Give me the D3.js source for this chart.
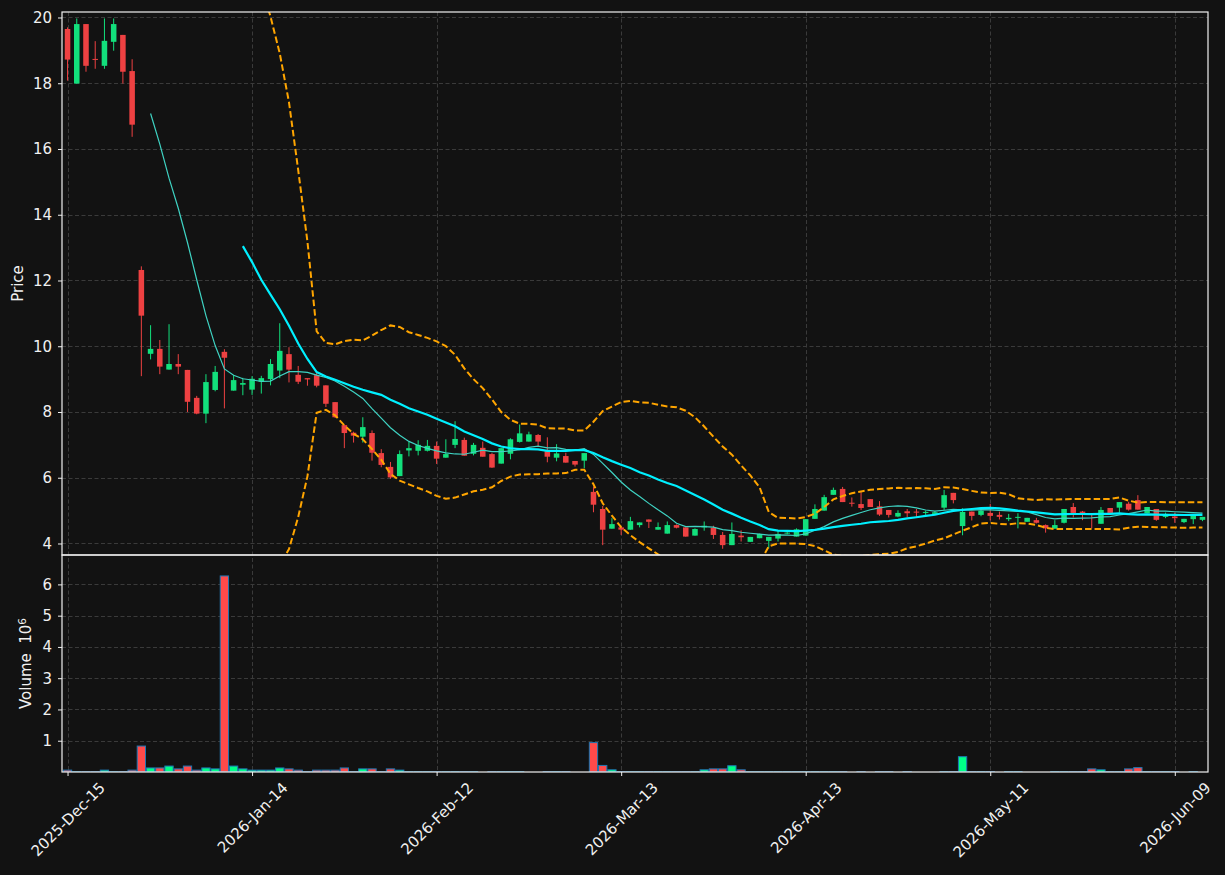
<!DOCTYPE html>
<html>
<head>
<meta charset="utf-8">
<script src="https://cdn.jsdelivr.net/npm/d3@7"></script>
<style>
  html, body { margin: 0; padding: 0; background: #121212; }
  svg { display: block; font-family: "DejaVu Sans", sans-serif; }
</style>
</head>
<body>
<div id="chart"></div>
<script>
// daily OHLC, index = trading day
var opens  = [19.65,17.99,19.80,18.74,18.53,19.26,19.47,18.37,12.32,9.77, 9.92,9.29,9.46,9.28,8.43,7.95,8.67,9.83,8.65,8.83,
              8.68,8.92,9.00,9.26,9.76,9.13,9.03,9.12,8.81,8.30, 7.60,7.37,7.25,7.36,6.75,6.33,6.05,6.83,6.82,6.82,
              6.97,6.61,7.00,7.15,6.73,6.91,6.72,6.43,6.73,7.09, 7.10,7.30,6.81,6.61,6.66,6.51,6.52,5.57,5.05,4.45,
              4.49,4.42,4.56,4.73,4.42,4.30,4.56,4.49,4.24,4.49, 4.48,4.26,3.95,4.24,4.05,4.16,4.08,4.15,4.30,4.21,
              4.24,4.75,5.00,5.48,5.66,5.24,5.20,5.35,5.13,5.02, 4.82,4.98,4.97,4.93,4.90,5.09,5.54,4.53,4.97,4.87,
              4.93,4.87,4.74,4.79,4.66,4.71,4.56,4.45,4.63,5.11, 4.97,4.92,4.60,5.08,5.09,5.21,5.32,4.92,5.05,4.81,
              4.82,4.65,4.74,4.72];
var highs  = [19.70,19.97,19.80,19.28,19.97,19.97,19.47,18.73,12.43,10.64, 10.19,10.67,9.76,9.28,8.49,9.15,9.40,9.91,9.12,9.04,
              9.09,9.10,9.61,10.70,9.97,9.40,9.03,9.20,8.81,8.30, 7.60,7.40,7.84,7.44,6.87,6.48,6.83,7.09,7.14,7.15,
              7.10,7.17,7.72,7.22,7.06,7.10,6.75,6.90,7.20,7.62, 7.40,7.33,7.23,7.02,6.76,6.51,6.75,5.73,5.14,4.77,
              4.49,4.81,4.64,4.73,4.64,4.67,4.58,4.49,4.46,4.67, 4.54,4.35,4.64,4.40,4.20,4.30,4.20,4.39,4.36,4.46,
              4.74,5.19,5.48,5.70,5.72,5.40,5.56,5.35,5.29,5.02, 5.01,5.05,5.05,5.00,4.98,5.63,5.54,5.07,4.97,5.07,
              5.20,4.97,4.90,4.92,4.78,4.78,4.58,4.71,5.05,5.23, 4.99,4.92,5.11,5.08,5.26,5.27,5.47,5.11,5.05,4.94,
              4.94,4.75,4.86,4.81];
var lows   = [18.08,17.99,18.35,18.44,18.44,18.99,17.99,16.37,9.09,9.60, 9.15,9.29,9.15,8.00,7.93,7.66,8.63,8.11,8.65,8.51,
              8.52,8.56,8.81,9.03,8.90,8.85,8.80,8.75,8.15,7.82, 6.90,7.07,7.07,6.52,6.32,5.97,6.05,6.65,6.68,6.80,
              6.42,6.61,6.90,6.67,6.68,6.64,6.30,6.43,6.56,7.07, 7.10,6.95,6.47,6.50,6.46,6.34,6.29,4.95,3.95,4.45,
              4.26,4.42,4.49,4.47,4.42,4.30,4.46,4.21,4.24,4.39, 4.14,3.84,3.95,4.06,4.05,4.16,3.85,4.06,4.28,4.21,
              4.24,4.75,5.00,5.48,5.26,5.12,5.02,5.11,4.84,4.79, 4.80,4.80,4.80,4.87,4.90,5.02,5.22,4.25,4.70,4.83,
              4.70,4.73,4.68,4.46,4.66,4.61,4.33,4.45,4.61,4.79, 4.71,4.46,4.60,4.93,4.94,5.00,5.03,4.92,4.69,4.77,
              4.63,4.62,4.59,4.68];
var closes = [18.72,19.80,18.53,18.72,19.29,19.80,18.35,16.74,10.93,9.92, 9.38,9.46,9.38,8.31,7.95,8.91,9.22,9.65,8.97,8.88,
              9.01,9.03,9.46,9.86,9.29,8.92,8.99,8.80,8.25,7.84, 7.36,7.28,7.54,6.76,6.39,6.01,6.72,6.90,7.00,6.97,
              6.58,6.72,7.18,6.67,7.00,6.64,6.31,6.90,7.17,7.35, 7.32,7.10,6.64,6.74,6.46,6.40,6.75,5.18,4.42,4.59,
              4.42,4.68,4.64,4.66,4.50,4.56,4.48,4.21,4.44,4.54, 4.26,3.95,4.29,4.19,4.20,4.29,4.20,4.29,4.33,4.43,
              4.74,5.05,5.41,5.63,5.26,5.22,5.08,5.11,4.88,4.87, 4.93,4.92,4.95,4.96,4.95,5.47,5.32,4.96,4.84,5.00,
              4.84,4.81,4.78,4.81,4.78,4.63,4.46,4.56,5.05,4.93, 4.93,4.89,5.02,4.93,5.26,5.03,5.03,5.11,4.72,4.90,
              4.77,4.75,4.86,4.81];
// volume in millions
var volumes = [0.06,0.01,0.01,0.01,0.06,0.01,0.01,0.06,0.83,0.13, 0.13,0.19,0.10,0.19,0.06,0.13,0.10,6.27,0.19,0.10,
               0.06,0.06,0.06,0.13,0.10,0.06,0.01,0.06,0.06,0.06, 0.13,0.01,0.10,0.10,0.01,0.10,0.06,0.01,0.01,0.01,
               0.01,0.01,0.01,0.01,0.01,0,0.01,0.01,0.01,0.01, 0,0,0.01,0.01,0.01,0,0,0.94,0.21,0.07,
               0.01,0.01,0.01,0.01,0.01,0.01,0.01,0.01,0.01,0.07, 0.10,0.10,0.20,0.07,0.01,0.01,0.01,0.01,0.01,0.01,
               0.01,0.01,0.01,0.01,0.01,0,0.01,0,0.01,0.01, 0,0.01,0,0,0,0.01,0.01,0.49,0.01,0.01,
               0.01,0,0.01,0.01,0,0,0,0.01,0.01,0.01, 0.01,0.10,0.07,0.01,0.01,0.10,0.14,0.01,0.01,0.01,
               0.01,0,0.01,0];
var tickIdx = [0, 20, 40, 60, 80, 100, 120];
var tickLabels = ['2025-Dec-15', '2026-Jan-14', '2026-Feb-12', '2026-Mar-13', '2026-Apr-13', '2026-May-11', '2026-Jun-09'];
var priceTicks = [4, 6, 8, 10, 12, 14, 16, 18, 20];
var volTicks = [1, 2, 3, 4, 5, 6];

var W = 1225, H = 875;
var pLeft = 62, pRight = 1208, pTop = 12, pMid = 555, pBottom = 772;
var upColor = '#12e07c', downColor = '#ee4142';
var gridColor = '#3a3a3a', fg = '#f0f0f0';
var fontSize = '15px';

var n = closes.length;
var candles = closes.map(function(c, i){
    return {i: i, o: opens[i], h: highs[i], l: lows[i], c: c, v: volumes[i]};
});

// rolling mean / bollinger from closes
function rolling(win, fn){
    return closes.map(function(c, i){
        if (i < win - 1) return null;
        return fn(closes.slice(i - win + 1, i + 1));
    });
}
var ma10 = rolling(10, d3.mean);
var ma20 = rolling(20, d3.mean);
var sd20 = rolling(20, d3.deviation);
var bbUp = ma20.map(function(m, i){ return m == null ? null : m + 2 * sd20[i]; });
var bbLo = ma20.map(function(m, i){ return m == null ? null : m - 2 * sd20[i]; });

var x = d3.scaleLinear().domain([-0.6, n - 1 + 0.6]).range([pLeft, pRight]);
var y = d3.scaleLinear().domain([3.65, 20.167]).range([pMid, pTop]);
var yv = d3.scaleLinear().domain([0, 6.94]).range([pBottom, pMid]);
var step = x(1) - x(0);

var svg = d3.select('#chart').append('svg')
    .attr('width', W).attr('height', H);
svg.append('rect').attr('width', W).attr('height', H).attr('fill', '#121212');

var defs = svg.append('defs');
defs.append('clipPath').attr('id', 'clipP').append('rect')
    .attr('x', pLeft).attr('y', pTop).attr('width', pRight - pLeft).attr('height', pMid - pTop);
defs.append('clipPath').attr('id', 'clipV').append('rect')
    .attr('x', pLeft).attr('y', pMid).attr('width', pRight - pLeft).attr('height', pBottom - pMid);

// grid
var grid = svg.append('g').attr('stroke', gridColor).attr('stroke-width', 1).attr('stroke-dasharray', '4,2.5');
grid.selectAll('.gy').data(priceTicks).enter().append('line')
    .attr('x1', pLeft).attr('x2', pRight)
    .attr('y1', function(d){ return Math.round(y(d)) + 0.5; })
    .attr('y2', function(d){ return Math.round(y(d)) + 0.5; });
grid.selectAll('.gv').data(volTicks).enter().append('line')
    .attr('x1', pLeft).attr('x2', pRight)
    .attr('y1', function(d){ return Math.round(yv(d)) + 0.5; })
    .attr('y2', function(d){ return Math.round(yv(d)) + 0.5; });
grid.selectAll('.gx').data(tickIdx).enter().append('line')
    .attr('y1', pTop).attr('y2', pBottom)
    .attr('x1', function(d){ return Math.round(x(d)) + 0.5; })
    .attr('x2', function(d){ return Math.round(x(d)) + 0.5; });

// candles
var pg = svg.append('g').attr('clip-path', 'url(#clipP)');
var cg = pg.selectAll('.candle').data(candles).enter().append('g');
cg.append('line')
    .attr('x1', function(d){ return x(d.i); })
    .attr('x2', function(d){ return x(d.i); })
    .attr('y1', function(d){ return y(d.h); })
    .attr('y2', function(d){ return y(d.l); })
    .attr('stroke', function(d){ return d.c >= d.o ? upColor : downColor; })
    .attr('stroke-width', 1);
cg.append('rect')
    .attr('x', function(d){ return x(d.i) - step * 0.3; })
    .attr('width', step * 0.6)
    .attr('y', function(d){ return y(Math.max(d.o, d.c)); })
    .attr('height', function(d){ return Math.max(1, Math.abs(y(d.o) - y(d.c))); })
    .attr('fill', function(d){ return d.c >= d.o ? upColor : downColor; });

// overlays
function linePath(arr){
    return d3.line()
        .defined(function(d){ return d != null; })
        .x(function(d, i){ return x(i); })
        .y(function(d){ return y(d); })(arr);
}
pg.append('path').attr('d', linePath(bbUp)).attr('fill', 'none')
    .attr('stroke', '#ffa500').attr('stroke-width', 2).attr('stroke-dasharray', '6.5,3');
pg.append('path').attr('d', linePath(bbLo)).attr('fill', 'none')
    .attr('stroke', '#ffa500').attr('stroke-width', 2).attr('stroke-dasharray', '6.5,3');
pg.append('path').attr('d', linePath(ma10)).attr('fill', 'none')
    .attr('stroke', '#3fd3c3').attr('stroke-width', 1.2);
pg.append('path').attr('d', linePath(ma20)).attr('fill', 'none')
    .attr('stroke', '#00f0ff').attr('stroke-width', 2.2);

// volume
var vg = svg.append('g').attr('clip-path', 'url(#clipV)');
vg.selectAll('.vol').data(candles.filter(function(d){ return d.v > 0; })).enter().append('rect')
    .attr('x', function(d){ return x(d.i) - step * 0.45; })
    .attr('width', step * 0.9)
    .attr('y', function(d){ return yv(d.v); })
    .attr('height', function(d){ return yv(0) - yv(d.v); })
    .attr('fill', function(d){ return d.c >= d.o ? '#00ff88' : '#ff4a4a'; })
    .attr('stroke', '#1f77b4')
    .attr('stroke-width', 1);

// axes
var yAxis = d3.axisLeft(y).tickValues(priceTicks).tickSize(4).tickPadding(6).tickFormat(d3.format('d'));
var vAxis = d3.axisLeft(yv).tickValues(volTicks).tickSize(4).tickPadding(6).tickFormat(d3.format('d'));
var xAxis = d3.axisBottom(x).tickValues(tickIdx).tickSize(4).tickFormat(function(d, i){ return tickLabels[i]; });

function styleAxis(g){
    g.select('.domain').remove();
    g.selectAll('line').attr('stroke', fg);
    g.selectAll('text').attr('fill', fg).style('font-size', fontSize).style('font-family', '"DejaVu Sans", sans-serif');
}
svg.append('g').attr('transform', 'translate(' + pLeft + ',0)').call(yAxis).call(styleAxis);
svg.append('g').attr('transform', 'translate(' + pLeft + ',0)').call(vAxis).call(styleAxis);
var xg = svg.append('g').attr('transform', 'translate(0,' + pBottom + ')').call(xAxis).call(styleAxis);

// rotate x labels 45deg, centre bbox under tick
xg.selectAll('text').each(function(){
    var t = d3.select(this);
    var w = this.getComputedTextLength();
    var h = 14;
    var bh = (w + h) * Math.SQRT1_2;
    t.attr('text-anchor', 'middle').attr('dy', '0.35em')
        .attr('y', 0)
        .attr('transform', 'translate(0,' + (8 + bh / 2) + ') rotate(-45)');
});

// frames
var frame = svg.append('g').attr('fill', 'none').attr('stroke', fg).attr('stroke-width', 1.2);
frame.append('rect').attr('x', pLeft).attr('y', pTop).attr('width', pRight - pLeft).attr('height', pMid - pTop);
frame.append('rect').attr('x', pLeft).attr('y', pMid).attr('width', pRight - pLeft).attr('height', pBottom - pMid);

// labels
svg.append('text').attr('transform', 'translate(23,' + ((pTop + pMid) / 2) + ') rotate(-90)')
    .attr('text-anchor', 'middle').attr('fill', fg).style('font-size', fontSize).text('Price');
var vl = svg.append('text').attr('transform', 'translate(31,' + ((pMid + pBottom) / 2) + ') rotate(-90)')
    .attr('text-anchor', 'middle').attr('fill', fg).style('font-size', fontSize);
vl.append('tspan').text('Volume\u00a0\u00a010');
vl.append('tspan').attr('dy', '-0.45em').style('font-size', '10.5px').text('6');
</script>
</body>
</html>
